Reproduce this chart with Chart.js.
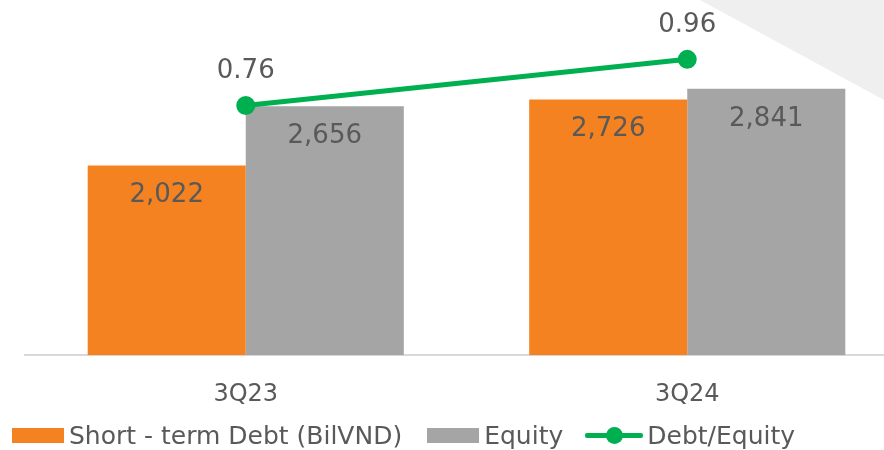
<!DOCTYPE html>
<html>
<head>
<meta charset="utf-8">
<script src="https://cdn.jsdelivr.net/npm/chart.js@4"></script>
<style>
  html, body { margin: 0; padding: 0; background: #fff; }
  body { width: 884px; height: 450px; overflow: hidden; position: relative; font-family: "DejaVu Sans", sans-serif; }
  #wedge { position: absolute; left: 0; top: 0; width: 884px; height: 450px; background: #efefef;
    clip-path: polygon(700px 0, 884px 0, 884px 100px); }
  #chart { position: absolute; left: 0; top: 0; }
  #legend { position: absolute; left: 12px; top: 420px; height: 30px; display: flex; align-items: center;
    font-size: 25px; color: #595959; white-space: nowrap; }
  .item { display: flex; align-items: center; margin-right: 25px; }
  .swatch { width: 52px; height: 15px; margin-right: 5px; }
  .lineKey { position: relative; width: 58px; height: 17px; margin-right: 4px; margin-left: -3px; }
  .lineKey span.bar { position: absolute; left: 0; top: 6px; width: 58px; height: 5px; border-radius: 2px; }
  .lineKey span.dot { position: absolute; left: 21px; top: 0; width: 17px; height: 17px; border-radius: 50%; }
</style>
</head>
<body>
<div id="wedge"></div>
<canvas id="chart" width="920" height="440"></canvas>
<div id="legend"></div>
<script>
const categories = ['3Q23', '3Q24'];
const shortTermDebt = [2022, 2726];
const equity = [2656, 2841];
const debtToEquity = [0.76, 0.96];
const seriesNames = ['Short - term Debt (BilVND)', 'Equity', 'Debt/Equity'];

const ORANGE = '#f58220';
const GRAY = '#a5a5a5';
const GREEN = '#00b050';
const TEXT = '#595959';
const FONT = '"DejaVu Sans", sans-serif';

const valueLabels = {
  id: 'valueLabels',
  afterDatasetsDraw(chart) {
    const ctx = chart.ctx;
    ctx.save();
    ctx.fillStyle = TEXT;
    ctx.textAlign = 'center';
    ctx.textBaseline = 'middle';
    ctx.font = '26px ' + FONT;
    chart.data.datasets.forEach((ds, i) => {
      const meta = chart.getDatasetMeta(i);
      meta.data.forEach((el, j) => {
        const v = ds.data[j];
        if (ds.type === 'line') {
          ctx.fillText(v.toFixed(2), el.x, el.y - 34);
        } else {
          ctx.fillText(v.toLocaleString('en-US'), el.x, el.y + 30);
        }
      });
    });
    ctx.restore();
  }
};

new Chart(document.querySelector('#chart'), {
  data: {
    labels: categories,
    datasets: [
      {
        type: 'line',
        label: seriesNames[2],
        data: debtToEquity,
        yAxisID: 'y2',
        borderColor: GREEN,
        backgroundColor: GREEN,
        borderWidth: 5,
        pointRadius: 7,
        pointHoverRadius: 7,
        order: 0
      },
      {
        type: 'bar',
        label: seriesNames[0],
        data: shortTermDebt,
        backgroundColor: ORANGE,
        barPercentage: 1,
        categoryPercentage: 0.716,
        order: 1
      },
      {
        type: 'bar',
        label: seriesNames[1],
        data: equity,
        backgroundColor: GRAY,
        barPercentage: 1,
        categoryPercentage: 0.716,
        order: 1
      }
    ]
  },
  options: {
    responsive: false,
    animation: false,
    layout: { padding: { left: 25, right: 12, top: 27, bottom: 6 } },
    plugins: {
      legend: { display: false },
      tooltip: { enabled: false }
    },
    scales: {
      x: {
        grid: { display: false, drawTicks: false },
        border: { display: true, color: '#d9d9d9', width: 2 },
        ticks: { color: TEXT, font: { family: FONT, size: 24 }, padding: 25 }
      },
      y: { display: false, min: 0, max: 3500 },
      y2: { display: false, position: 'right', min: -0.32, max: 1.1 }
    }
  },
  plugins: [valueLabels]
});

// legend built from the same series names
const legend = document.querySelector('#legend');
[[seriesNames[0], ORANGE, 'box'], [seriesNames[1], GRAY, 'box'], [seriesNames[2], GREEN, 'line']].forEach(([name, color, kind]) => {
  const item = document.createElement('div');
  item.className = 'item';
  if (kind === 'box') {
    item.innerHTML = '<span class="swatch" style="background:' + color + '"></span>';
  } else {
    item.innerHTML = '<span class="lineKey"><span class="bar" style="background:' + color + '"></span><span class="dot" style="background:' + color + '"></span></span>';
  }
  const t = document.createElement('span');
  t.textContent = name;
  item.appendChild(t);
  legend.appendChild(item);
});
</script>
</body>
</html>
